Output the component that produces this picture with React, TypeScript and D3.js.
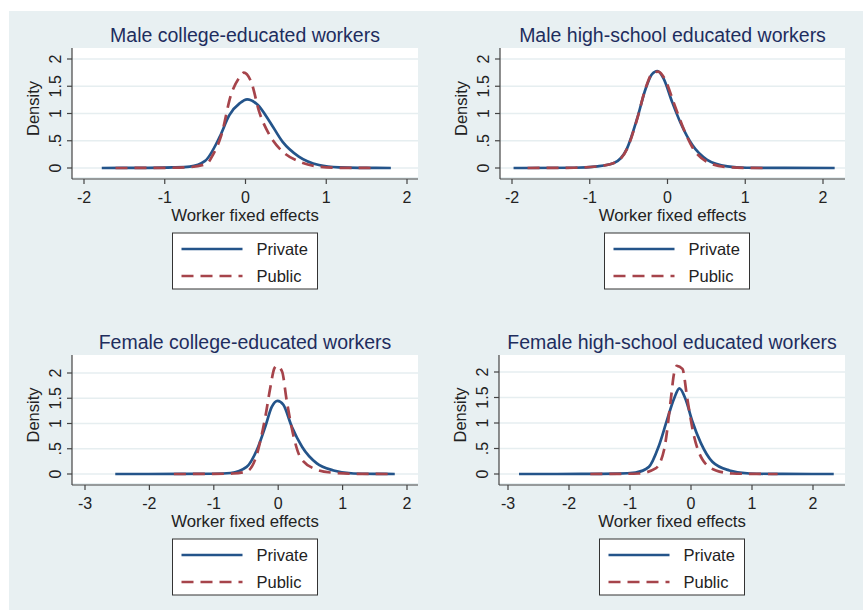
import * as d3 from 'd3';

// panel titles
const titles = [
  'Male college-educated workers',
  'Male high-school educated workers',
  'Female college-educated workers',
  'Female high-school educated workers',
];

const xTicksTop = [-2, -1, 0, 1, 2];
const xTicksBottom = [-3, -2, -1, 0, 1, 2];
const yTicks = [0, 0.5, 1, 1.5, 2];
const yTickLabels = ['0', '.5', '1', '1.5', '2'];
const seriesNames = ['Private', 'Public'];

// Male college-educated
const mcPrivateX = [-1.78, -1.2, -0.9, -0.69, -0.5, -0.32, -0.2, -0.07, 0.02, 0.15, 0.3, 0.46, 0.66, 0.91, 1.16, 1.4, 1.8];
const mcPrivateY = [0, 0.003, 0.01, 0.025, 0.13, 0.57, 0.97, 1.19, 1.26, 1.16, 0.85, 0.48, 0.21, 0.055, 0.01, 0.002, 0];
const mcPublicX = [-1.61, -1.0, -0.7, -0.48, -0.4, -0.3, -0.18, -0.07, -0.02, 0.07, 0.17, 0.3, 0.46, 0.66, 0.91, 1.2, 1.63];
const mcPublicY = [0, 0.003, 0.015, 0.08, 0.25, 0.6, 1.34, 1.67, 1.75, 1.58, 1.03, 0.6, 0.3, 0.12, 0.025, 0.003, 0];

// Male high-school educated
const mhPrivateX = [-1.98, -1.2, -0.9, -0.69, -0.52, -0.39, -0.28, -0.2, -0.13, -0.05, 0.06, 0.17, 0.32, 0.51, 0.77, 1.02, 1.5, 2.15];
const mhPrivateY = [0, 0.005, 0.03, 0.09, 0.36, 0.91, 1.46, 1.72, 1.78, 1.64, 1.21, 0.82, 0.42, 0.15, 0.03, 0.005, 0.001, 0];
const mhPublicX = [-1.8, -1.2, -0.9, -0.69, -0.52, -0.39, -0.28, -0.2, -0.12, -0.03, 0.08, 0.19, 0.32, 0.5, 0.75, 1.0, 1.23];
const mhPublicY = [0, 0.005, 0.03, 0.09, 0.35, 0.9, 1.47, 1.73, 1.77, 1.62, 1.2, 0.78, 0.38, 0.12, 0.02, 0.003, 0];

// Female college-educated
const fcPrivateX = [-2.53, -1.5, -1.0, -0.74, -0.49, -0.33, -0.2, -0.1, -0.01, 0.08, 0.21, 0.37, 0.6, 0.86, 1.17, 1.5, 1.81];
const fcPrivateY = [0, 0.001, 0.005, 0.02, 0.14, 0.48, 0.94, 1.33, 1.45, 1.37, 0.94, 0.54, 0.21, 0.07, 0.01, 0.002, 0];
const fcPublicX = [-1.62, -1.0, -0.7, -0.49, -0.36, -0.2, -0.12, -0.06, -0.02, 0.06, 0.13, 0.24, 0.34, 0.55, 0.81, 1.2, 1.79];
const fcPublicY = [0, 0.003, 0.01, 0.05, 0.28, 1.13, 1.73, 2.09, 2.14, 2.03, 1.47, 0.74, 0.34, 0.11, 0.03, 0.003, 0];

// Female high-school educated
const fhPrivateX = [-2.82, -1.8, -1.2, -0.91, -0.69, -0.53, -0.39, -0.28, -0.19, -0.09, 0.02, 0.16, 0.35, 0.63, 0.96, 1.5, 2.34];
const fhPrivateY = [0, 0.001, 0.008, 0.03, 0.14, 0.54, 1.07, 1.47, 1.68, 1.47, 1.04, 0.61, 0.24, 0.07, 0.01, 0.001, 0];
const fhPublicX = [-1.65, -1.2, -0.86, -0.58, -0.44, -0.33, -0.28, -0.23, -0.14, -0.06, 0.05, 0.19, 0.41, 0.68, 1.0, 1.42];
const fhPublicY = [0, 0.003, 0.01, 0.11, 0.48, 1.47, 1.96, 2.12, 2.06, 1.47, 0.74, 0.28, 0.07, 0.01, 0.002, 0];

const W = 863;
const H = 610;
const FONT = '"Liberation Sans", Arial, sans-serif';
const BG = '#e8f0f2';
const PRIVATE_COLOR = '#24548a';
const PUBLIC_COLOR = '#a6444b';
const TEXT = '#222';
const TITLE_COLOR = '#1e2d5e';
const DASH = '12,7';

const panels = [
  {
    title: titles[0], xTicks: xTicksTop,
    plot: { x0: 72, x1: 418, y0: 48, y1: 179 },
    xr: [84, 407], yr: [168, 59], legend: { cx: 245, top: 233 },
    priv: [mcPrivateX, mcPrivateY], pub: [mcPublicX, mcPublicY],
  },
  {
    title: titles[1], xTicks: xTicksTop,
    plot: { x0: 500, x1: 845, y0: 48, y1: 179 },
    xr: [512, 823], yr: [168, 59], legend: { cx: 677, top: 233 },
    priv: [mhPrivateX, mhPrivateY], pub: [mhPublicX, mhPublicY],
  },
  {
    title: titles[2], xTicks: xTicksBottom,
    plot: { x0: 72, x1: 418, y0: 355, y1: 485 },
    xr: [85, 407], yr: [474, 373], legend: { cx: 245, top: 539 },
    priv: [fcPrivateX, fcPrivateY], pub: [fcPublicX, fcPublicY],
  },
  {
    title: titles[3], xTicks: xTicksBottom,
    plot: { x0: 499, x1: 845, y0: 355, y1: 485 },
    xr: [508, 813], yr: [474, 372], legend: { cx: 672, top: 539 },
    priv: [fhPrivateX, fhPrivateY], pub: [fhPublicX, fhPublicY],
  },
];

function Panel({ p }: { p: typeof panels[number] }) {
  const dom = p.xTicks;
  const x = d3.scaleLinear().domain([dom[0], dom[dom.length - 1]]).range(p.xr);
  const y = d3.scaleLinear().domain([0, 2]).range(p.yr);
  const line = (xs: number[], ys: number[]) =>
    d3.line<number>()
      .x((_, i) => x(xs[i]))
      .y((_, i) => y(ys[i]))
      .curve(d3.curveMonotoneX)(ys) || '';
  const { x0, x1, y0, y1 } = p.plot;
  const cx = (x0 + x1) / 2;
  const lw = 145;
  const lx = p.legend.cx - lw / 2;
  const lt = p.legend.top;

  return (
    <g>
      <text x={cx} y={y0 - 6} textAnchor="middle" fontSize={19.5} fill={TITLE_COLOR} fontFamily={FONT}>{p.title}</text>
      <rect x={x0} y={y0} width={x1 - x0} height={y1 - 2 - y0} fill="#fff" />
      {yTicks.map(t => (
        <line key={t} x1={x0} x2={x1} y1={y(t)} y2={y(t)} stroke="#e6eef0" strokeWidth={1.5} />
      ))}
      <path d={line(p.priv[0], p.priv[1])} fill="none" stroke={PRIVATE_COLOR} strokeWidth={2.7} />
      <path d={line(p.pub[0], p.pub[1])} fill="none" stroke={PUBLIC_COLOR} strokeWidth={2.7} strokeDasharray={DASH} />
      {/* axes */}
      <line x1={x0} x2={x0} y1={y0} y2={y1} stroke="#444" strokeWidth={1.2} />
      <line x1={x0} x2={x1} y1={y1} y2={y1} stroke="#444" strokeWidth={1.2} />
      {yTicks.map((t, i) => (
        <g key={t}>
          <line x1={x0 - 5} x2={x0} y1={y(t)} y2={y(t)} stroke="#444" strokeWidth={1.2} />
          <text transform={`translate(${x0 - 11},${y(t)}) rotate(-90)`} textAnchor="middle" fontSize={16} fill={TEXT} fontFamily={FONT}>{yTickLabels[i]}</text>
        </g>
      ))}
      {p.xTicks.map(t => (
        <g key={t}>
          <line x1={x(t)} x2={x(t)} y1={y1} y2={y1 + 5} stroke="#444" strokeWidth={1.2} />
          <text x={x(t)} y={y1 + 24} textAnchor="middle" fontSize={16} fill={TEXT} fontFamily={FONT}>{t}</text>
        </g>
      ))}
      <text x={cx} y={y1 + 42} textAnchor="middle" fontSize={16.8} fill={TEXT} fontFamily={FONT}>Worker fixed effects</text>
      <text transform={`translate(${x0 - 33},${(y0 + y1) / 2 - 5}) rotate(-90)`} textAnchor="middle" fontSize={16.5} fill={TEXT} fontFamily={FONT}>Density</text>
      {/* legend */}
      <rect x={lx} y={lt} width={lw} height={56} fill="#fff" stroke="#333" strokeWidth={1} />
      {seriesNames.map((s, i) => (
        <g key={s}>
          <line x1={lx + 9} x2={lx + 70} y1={lt + 16 + i * 27} y2={lt + 16 + i * 27}
            stroke={i === 0 ? PRIVATE_COLOR : PUBLIC_COLOR} strokeWidth={2.7}
            strokeDasharray={i === 0 ? undefined : DASH} />
          <text x={lx + 84} y={lt + 22 + i * 27} fontSize={16.5} fill={TEXT} fontFamily={FONT}>{s}</text>
        </g>
      ))}
    </g>
  );
}

export default function App() {
  return (
    <svg width={W} height={H} style={{ position: 'absolute', left: 0, top: 0, background: '#fff' }}>
      <rect x={9} y={11} width={W - 9} height={H - 11} fill={BG} />
      {panels.map((p, i) => <Panel key={i} p={p} />)}
    </svg>
  );
}
